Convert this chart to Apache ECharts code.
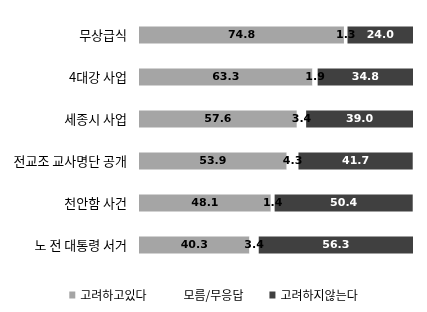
<!DOCTYPE html>
<html><head><meta charset="utf-8">
<script src="https://cdn.jsdelivr.net/npm/echarts@6/dist/echarts.min.js"></script>
<style>html,body{margin:0;padding:0;background:#fff}#c{width:427px;height:312px}</style>
</head><body><div id="c"></div>
<script>
const categories = ['무상급식','4대강 사업','세종시 사업','전교조 교사명단 공개','천안함 사건','노 전 대통령 서거'];
const seriesNames = ['고려하고있다','모름/무응답','고려하지않는다'];
const considering = [74.8,63.3,57.6,53.9,48.1,40.3];
const unknown = [1.3,1.9,3.4,4.3,1.4,3.4];
const notConsidering = [24.0,34.8,39.0,41.7,50.4,56.3];

const font = "'Noto Sans CJK KR', 'DejaVu Sans', sans-serif";
const labelBase = {show:true, fontSize:11, fontWeight:'bold', fontFamily:"'DejaVu Sans', sans-serif", formatter:p=>p.value.toFixed(1)};
const chart = echarts.init(document.getElementById('c'));
chart.setOption({
  animation:false,
  grid:{left:139, right:14, top:14, bottom:46},
  xAxis:{type:'value', min:0, max:100, show:false},
  yAxis:{type:'category', data:categories, inverse:true,
    axisLine:{show:false}, axisTick:{show:false},
    axisLabel:{color:'#000', fontSize:13, fontFamily:font, margin:12}},
  legend:{bottom:6, left:'center', itemWidth:6, itemHeight:7, itemGap:26,
    textStyle:{fontSize:12, fontFamily:font, color:'#000'},
    data:seriesNames.map((n,i)=>({name:n, icon:'rect', itemStyle: i===1?{color:'#fff'}:undefined}))},
  series:[
    {name:seriesNames[0], type:'bar', stack:'s', data:considering, barWidth:17,
      itemStyle:{color:'#a5a5a5'}, label:Object.assign({}, labelBase, {color:'#000', position:'inside'})},
    {name:seriesNames[1], type:'bar', stack:'s', data:unknown, barWidth:17,
      itemStyle:{color:'#ffffff'}, label:Object.assign({}, labelBase, {color:'#000', position:'inside'})},
    {name:seriesNames[2], type:'bar', stack:'s', data:notConsidering, barWidth:17,
      itemStyle:{color:'#404040'}, label:Object.assign({}, labelBase, {color:'#fff', position:'inside'})}
  ]
});
</script></body></html>
